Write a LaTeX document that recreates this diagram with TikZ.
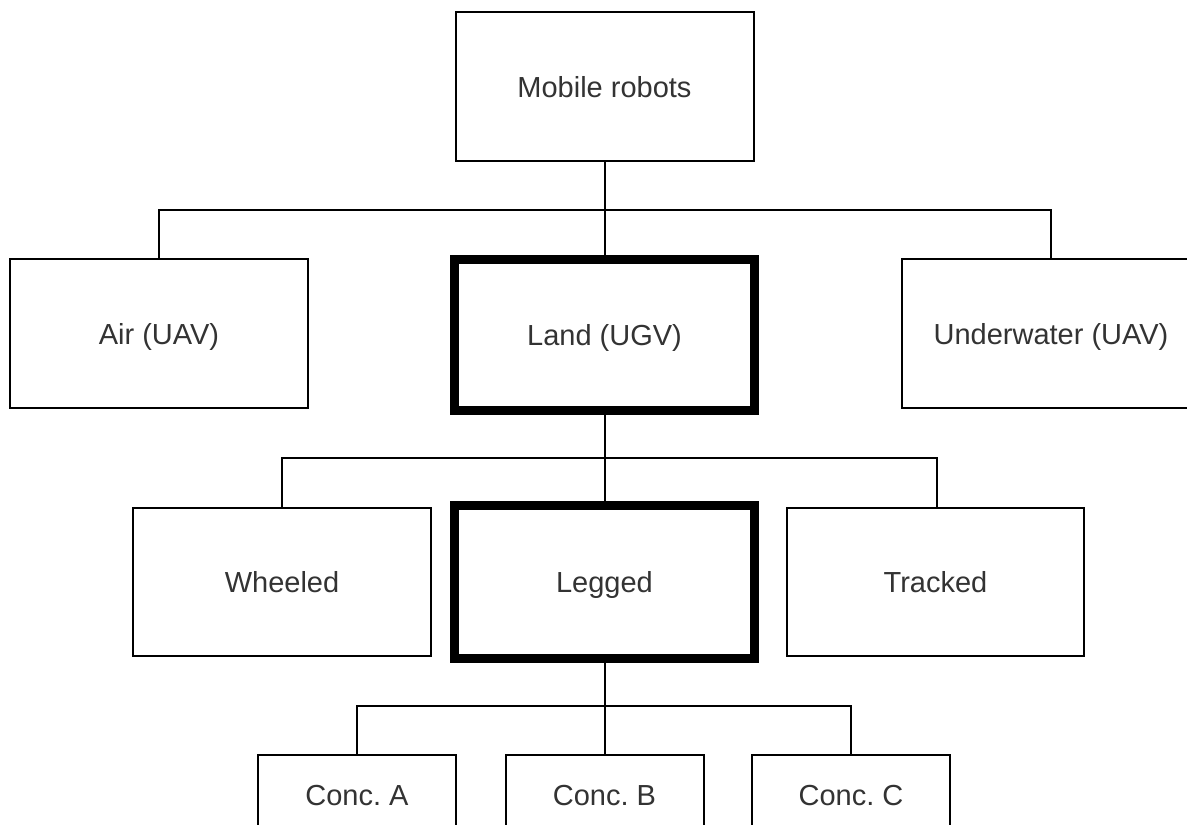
\documentclass[tikz,border=0pt]{standalone}
\usepackage{fontspec}
\setmainfont{Liberation Sans}
\frenchspacing
\definecolor{labelgray}{RGB}{51,51,51}
\begin{document}
\begin{tikzpicture}[x=1pt,y=-1pt,
  box/.style={draw=black, line width=2pt, fill=white, rectangle,
    inner sep=0pt, outer sep=0pt, text=labelgray,
    font=\fontsize{29}{34}\selectfont, text height=24pt, text depth=3pt},
  wide/.style={box, minimum width=298pt, minimum height=149pt},
  narrow/.style={box, minimum width=198pt, minimum height=80pt},
  focus/.style={box, line width=9pt, minimum width=300pt},
  link/.style={draw=black, line width=2pt}]
  \clip (0,0) rectangle (1187,825);
  \fill[white] (0,0) rectangle (1187,825);

  % bus levels of the tree
  \coordinate (bus1) at (0,210);
  \coordinate (bus2) at (0,458);
  \coordinate (bus3) at (0,706);
  \coordinate (trackc) at (937,508);

  % nodes
  \node[wide] (top) at (604.5,86.5) {Mobile robots};
  \node[wide] (air) at (159,333.5) {Air (UAV)};
  \node[focus, minimum height=151pt] (land) at (604.5,335) {Land (UGV)};
  \node[wide] (water) at (1051,333.5) {Underwater (UAV)};
  \node[wide, minimum height=148pt] (wheel) at (282,582) {Wheeled};
  \node[focus, minimum height=153pt] (leg) at (604.5,582) {Legged};
  \node[wide, minimum width=297pt, minimum height=148pt] (track) at (935.5,582) {Tracked};
  \node[narrow] (ca) at (357,795) {Conc. A};
  \node[narrow] (cb) at (604.5,795) {Conc. B};
  \node[narrow] (cc) at (851,795) {Conc. C};

  % connectors between levels
  \draw[link] (top.south) -- (top.south |- bus1);
  \draw[link] (air.north) |- (top.south |- bus1) -| (water.north);
  \draw[link] (top.south |- bus1) -- (land.north);
  \draw[link] (land.south) -- (land.south |- bus2);
  \draw[link] (wheel.north) |- (land.south |- bus2) -| (trackc);
  \draw[link] (land.south |- bus2) -- (leg.north);
  \draw[link] (leg.south) -- (leg.south |- bus3);
  \draw[link] (ca.north) |- (leg.south |- bus3) -| (cc.north);
  \draw[link] (leg.south |- bus3) -- (cb.north);
\end{tikzpicture}
\end{document}
